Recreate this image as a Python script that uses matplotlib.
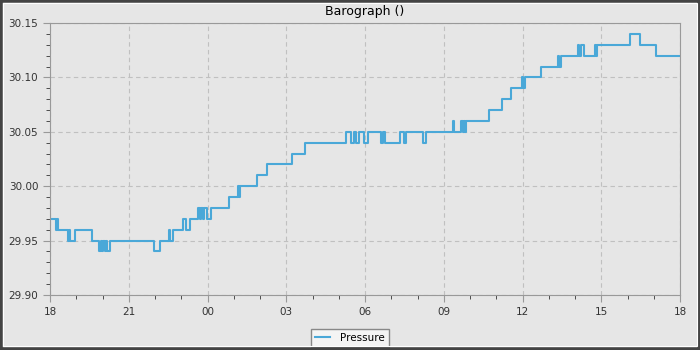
import datetime as dt
import matplotlib
matplotlib.use("Agg")
import matplotlib.pyplot as plt
import matplotlib.dates as mdates
from matplotlib.patches import Rectangle
from matplotlib.ticker import MultipleLocator

# change points of the step trace (time of day, inHg)
times = ["18:00", "18:14", "18:16", "18:18", "18:40", "18:43", "18:46", "18:57",
         "19:35", "19:53", "19:57", "19:59", "20:02", "20:06", "20:09", "20:11",
         "20:16", "21:58", "22:12", "22:32", "22:35", "22:40", "23:05", "23:10",
         "23:21", "23:39", "23:43", "23:45", "23:49", "23:52", "23:59", "00:08",
         "00:48", "01:09", "01:12", "01:14", "01:52", "02:15", "03:12", "03:43",
         "05:16", "05:28", "05:35", "05:39", "05:47", "05:58", "06:06", "06:36",
         "06:41", "06:46", "07:20", "07:28", "07:34", "08:13", "08:19", "09:20",
         "09:24", "09:39", "09:43", "09:46", "09:49", "09:50", "10:44", "11:14",
         "11:34", "11:58", "12:01", "12:05", "12:42", "13:20", "13:23", "13:27",
         "14:06", "14:10", "14:13", "14:21", "14:46", "14:49", "14:51", "16:06",
         "16:29", "17:05", "18:00"]
pressure = [29.97, 29.96, 29.97, 29.96, 29.95, 29.96, 29.95, 29.96,
            29.95, 29.94, 29.95, 29.94, 29.95, 29.94, 29.95, 29.94,
            29.95, 29.94, 29.95, 29.96, 29.95, 29.96, 29.97, 29.96,
            29.97, 29.98, 29.97, 29.98, 29.97, 29.98, 29.97, 29.98,
            29.99, 30.00, 29.99, 30.00, 30.01, 30.02, 30.03, 30.04,
            30.05, 30.04, 30.05, 30.04, 30.05, 30.04, 30.05, 30.04,
            30.05, 30.04, 30.05, 30.04, 30.05, 30.04, 30.05, 30.06,
            30.05, 30.06, 30.05, 30.06, 30.05, 30.06, 30.07, 30.08,
            30.09, 30.10, 30.09, 30.10, 30.11, 30.12, 30.11, 30.12,
            30.13, 30.12, 30.13, 30.12, 30.13, 30.12, 30.13, 30.14,
            30.13, 30.12, 30.12]

day0 = dt.datetime(2024, 1, 1)
def to_dt(s, first):
    h, m = map(int, s.split(":"))
    d = day0 if (h >= 18 and first) else day0 + dt.timedelta(days=1)
    return d.replace(hour=h, minute=m)

x = [to_dt(t, i < len(times) - 1) for i, t in enumerate(times)]

bg = "#e6e6e6"
fig = plt.figure(figsize=(7, 3.5), dpi=100, facecolor=bg)
fig.patches.append(Rectangle((0, 0), 1, 1, transform=fig.transFigure,
                             fill=False, edgecolor="#444444", linewidth=4, zorder=10))
fig.patches.append(Rectangle((0, 0), 1, 2/350, transform=fig.transFigure,
                             fill=True, color="#444444", zorder=10))
fig.patches.append(Rectangle((3/700, 4/350), 694/700, 343/350, transform=fig.transFigure,
                             fill=False, edgecolor="white", linewidth=0.8, zorder=10))

ax = fig.add_axes([50/700, 55/350, 630/700, 272/350])
ax.set_facecolor(bg)
ax.step(x, pressure, where="post", color="#4aa8d8", linewidth=1.5, label="Pressure")

ax.set_xlim(x[0], x[-1])
ax.set_ylim(29.90, 30.15)
ax.xaxis.set_major_locator(mdates.HourLocator(byhour=range(0, 24, 3)))
ax.xaxis.set_minor_locator(mdates.HourLocator())
ax.xaxis.set_major_formatter(mdates.DateFormatter("%H"))
ax.yaxis.set_major_locator(MultipleLocator(0.05))
ax.yaxis.set_minor_locator(MultipleLocator(0.01))
ax.yaxis.set_major_formatter(matplotlib.ticker.FormatStrFormatter("%.2f"))

for s in ax.spines.values():
    s.set_color("#999999")
ax.tick_params(which="both", direction="out", colors="#333333", labelsize=7.5)
ax.tick_params(which="major", length=5, color="#999999")
ax.tick_params(which="minor", length=3, color="#333333")
ax.grid(True, which="major", linestyle=(0, (4, 3)), color="#c0c0c0", linewidth=0.8)

ax.set_title("Barograph ()", fontsize=9, pad=5.5)

fig.legend(loc="lower center", bbox_to_anchor=(0.5, -0.006), fontsize=7.5,
           frameon=True, fancybox=False, edgecolor="#888888", facecolor="#f4f4f4",
           framealpha=1, handlelength=1.4, handletextpad=1.0, borderpad=0.4)

fig.savefig("out.png", dpi=100, facecolor=bg)
